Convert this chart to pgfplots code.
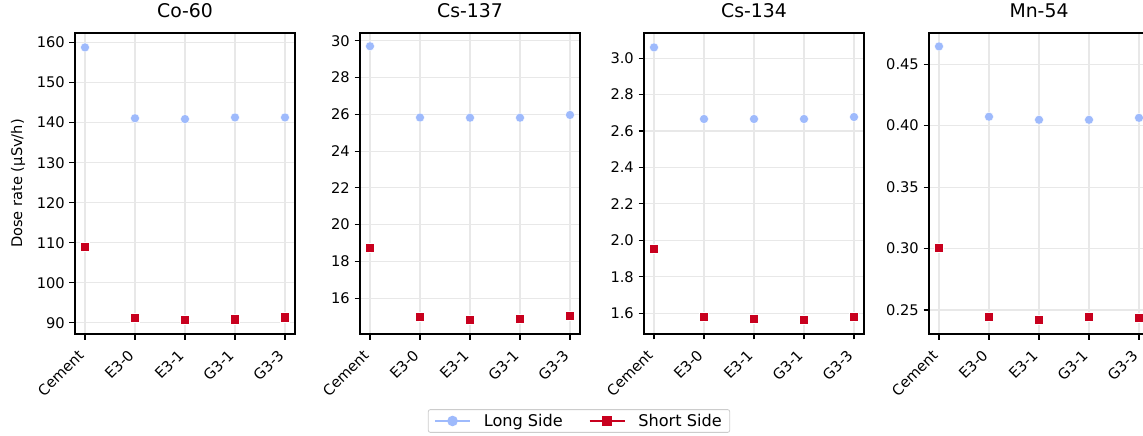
\documentclass[border=0pt]{standalone}
\usepackage{fontspec}
\setmainfont{DejaVu Sans}
\usepackage{pgfplots}
\pgfplotsset{compat=1.18}
\definecolor{lb}{RGB}{158,186,252}
\definecolor{dr}{RGB}{200,0,30}
\definecolor{gridc}{RGB}{232,232,232}
\newcommand{\tickfont}{\fontsize{14.7}{17}\selectfont}
\pgfplotsset{
  panel/.style={
    scale only axis, width=220bp, height=301bp, anchor=south west,
    xmin=-0.2, xmax=4.2,
    xtick={0,1,2,3,4},
    xticklabels={Cement,E3-0,E3-1,G3-1,G3-3},
    xtick pos=lower, ytick pos=left,
    tick align=outside,
    major tick length=5.5bp,
    every tick/.style={black, line width=1.1bp},
    axis line style={line width=1.1bp},
    grid=major,
    major grid style={gridc, line width=1.1bp},
    /pgf/number format/assume math mode=true,
    every x tick label/.append style={font=\tickfont, inner sep=0pt, xshift=-8bp, yshift=-9bp, rotate=45, anchor=north east},
    every y tick label/.append style={font=\tickfont, inner sep=0pt, xshift=-4.5bp},
    title style={font=\fontsize{18.9}{21}\selectfont, at={(axis description cs:0.5,1)}, anchor=base, inner sep=0pt, yshift=9.5bp},
    clip=false,
  },
  lmark/.style={only marks, mark=*, mark size=4.5bp, mark options={fill=lb, draw=white, line width=0.4bp}},
  smark/.style={only marks, mark=square*, mark size=4.6bp, mark options={fill=dr, draw=white, line width=0.4bp}},
}
\begin{document}
\begin{tikzpicture}
\path[use as bounding box, clip] (0bp,0bp) rectangle (1143bp,436bp);
% Panel 1
\begin{axis}[panel, at={(75bp,102bp)}, ymin=87.2, ymax=162.4, ytick={90,100,...,160},
  title={Co-60},
  ylabel={Dose rate (µSv/h)},
  ylabel style={font=\tickfont, at={(axis description cs:-0.259,0.5)}, anchor=center, rotate=0},
  legend columns=2,
  legend style={at={(axis description cs:2.291,-0.289)}, anchor=center, draw={rgb,255:red,204;green,204;blue,204}, rounded corners=2bp, line width=0.8bp,
    font=\fontsize{16.2}{18}\selectfont, inner xsep=6bp, inner ysep=2.5bp,
    /tikz/every odd column/.append style={column sep=11bp},
    /tikz/every even column/.append style={column sep=24bp}},
  legend image code/.code={\draw[mark repeat=2,mark phase=2,#1] plot coordinates {(0bp,0bp) (17.5bp,0bp) (35bp,0bp)};},
]
\addlegendimage{lb, line width=1.5bp, mark=*, mark size=4.5bp, mark options={fill=lb, draw=lb}}
\addlegendentry{Long Side}
\addlegendimage{dr, line width=1.5bp, mark=square*, mark size=4.6bp, mark options={fill=dr, draw=dr}}
\addlegendentry{Short Side}
\addplot[lmark, forget plot] coordinates {(0,158.8) (1,141.1) (2,140.9) (3,141.3) (4,141.3)};
\addplot[smark, forget plot] coordinates {(0,109.1) (1,91.2) (2,90.7) (3,90.9) (4,91.4)};
\end{axis}
% Panel 2
\begin{axis}[panel, at={(360bp,102bp)}, ymin=14.05, ymax=30.43, ytick={16,18,...,30},
  title={Cs-137}]
\addplot[lmark] coordinates {(0,29.71) (1,25.83) (2,25.82) (3,25.82) (4,25.97)};
\addplot[smark] coordinates {(0,18.75) (1,14.99) (2,14.82) (3,14.88) (4,15.04)};
\end{axis}
% Panel 3
\begin{axis}[panel, at={(644bp,102bp)}, ymin=1.486, ymax=3.138, ytick={1.6,1.8,...,3.01},
  yticklabel style={/pgf/number format/.cd, fixed, fixed zerofill, precision=1},
  title={Cs-134}]
\addplot[lmark] coordinates {(0,3.059) (1,2.666) (2,2.666) (3,2.666) (4,2.677)};
\addplot[smark] coordinates {(0,1.955) (1,1.580) (2,1.569) (3,1.564) (4,1.580)};
\end{axis}
% Panel 4
\begin{axis}[panel, at={(929bp,102bp)}, ymin=0.2305, ymax=0.4753, ytick={0.25,0.30,0.35,0.40,0.45},
  yticklabel style={/pgf/number format/.cd, fixed, fixed zerofill, precision=2},
  title={Mn-54}]
\addplot[lmark] coordinates {(0,0.4644) (1,0.4072) (2,0.4047) (3,0.4047) (4,0.4063)};
\addplot[smark] coordinates {(0,0.3005) (1,0.2443) (2,0.2419) (3,0.2443) (4,0.2435)};
\end{axis}
\end{tikzpicture}
\end{document}
